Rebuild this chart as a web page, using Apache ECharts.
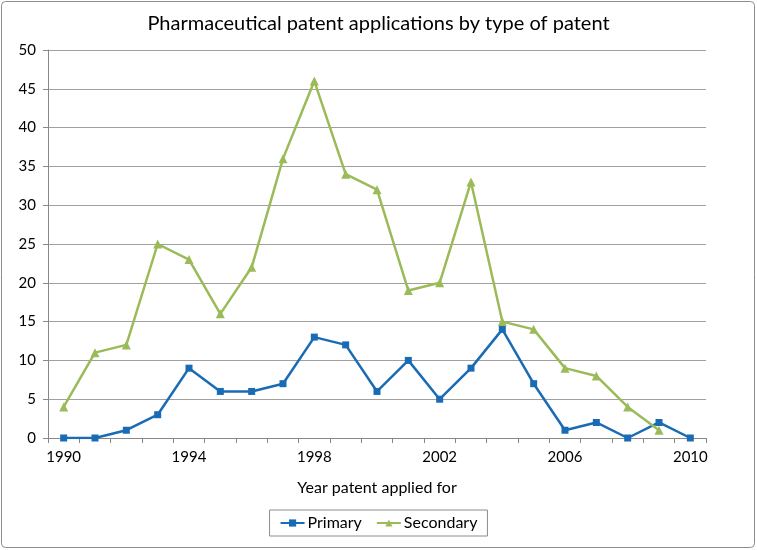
<!DOCTYPE html>
<html>
<head>
<meta charset="utf-8">
<script src="https://cdn.jsdelivr.net/npm/echarts@6/dist/echarts.min.js"></script>
<style>html,body{margin:0;padding:0;background:#fff}#c{width:757px;height:550px}</style>
</head>
<body>
<div id="c"></div>
<script>
const years = ['1990','1991','1992','1993','1994','1995','1996','1997','1998','1999','2000','2001','2002','2003','2004','2005','2006','2007','2008','2009','2010'];
const primary = [0,0,1,3,9,6,6,7,13,12,6,10,5,9,14,7,1,2,0,2,0];
const secondary = [4,11,12,25,23,16,22,36,46,34,32,19,20,33,15,14,9,8,4,1,null];
const yTicks = {min:0, max:50, interval:5};
const FONT = 'Lato, "Open Sans", sans-serif';

const chart = echarts.init(document.getElementById('c'), null, {renderer:'canvas'});
chart.setOption({
  animation:false,
  backgroundColor:'#fff',
  graphic:[{type:'rect', shape:{x:1.5,y:1.5,width:753,height:546,r:4}, style:{fill:'none', stroke:'#8c8c8c', lineWidth:1}, z:-1}],
  title:{text:'Pharmaceutical patent applications by type of patent', left:'center', top:9,
    textStyle:{fontFamily:FONT, fontSize:20, fontWeight:'normal', color:'#000'}},
  grid:{left:48, right:51, top:50, bottom:112},
  legend:{bottom:14, left:'center', borderColor:'#8c8c8c', borderWidth:1, padding:[5,10,5,10], itemGap:14,
    itemWidth:24, itemHeight:9, itemStyle:{}, textStyle:{fontFamily:FONT, fontSize:16, color:'#000', padding:[0,0,0,-2]}},
  xAxis:{type:'category', data:years, boundaryGap:true,
    name:'Year patent applied for', nameLocation:'middle', nameGap:42,
    nameTextStyle:{fontFamily:FONT, fontSize:16, color:'#000'},
    axisLine:{lineStyle:{color:'#888'}},
    axisTick:{show:true, interval:0, length:5, inside:false, alignWithLabel:false, lineStyle:{color:'#888'}},
    axisLabel:{interval:3, fontFamily:FONT, fontSize:15, color:'#000', margin:12},
    splitLine:{show:false}},
  yAxis:{type:'value', min:yTicks.min, max:yTicks.max, interval:yTicks.interval,
    axisLine:{show:true, lineStyle:{color:'#888'}},
    axisTick:{show:true, length:5, lineStyle:{color:'#888'}},
    axisLabel:{fontFamily:FONT, fontSize:15, color:'#000', margin:12},
    splitLine:{lineStyle:{color:'#a0a0a0', width:1.2}}},
  series:[
    {name:'Primary', type:'line', data:primary, symbol:'rect', symbolSize:7,
      lineStyle:{width:2.5, color:'#1a6bb5'}, itemStyle:{color:'#1a6bb5'}},
    {name:'Secondary', type:'line', data:secondary, symbol:'triangle', symbolSize:9,
      lineStyle:{width:2.5, color:'#9bbb59'}, itemStyle:{color:'#9bbb59'}}
  ]
});
</script>
</body>
</html>
